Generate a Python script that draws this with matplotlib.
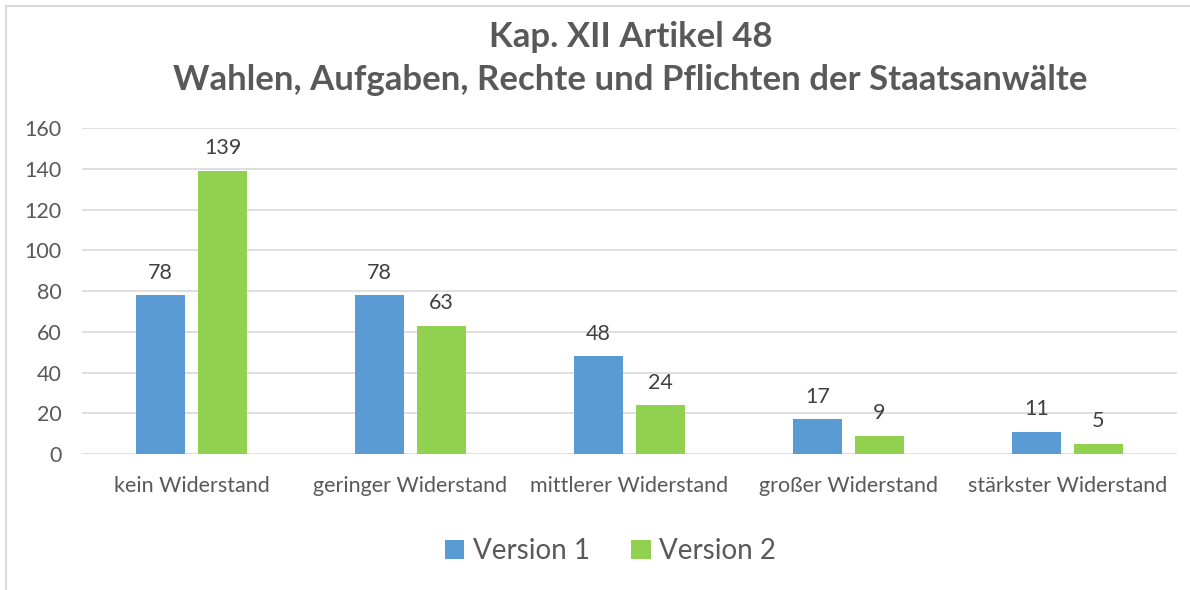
import matplotlib.pyplot as plt
import numpy as np
from matplotlib.patches import Rectangle

# Chart data
categories = ["kein Widerstand", "geringer Widerstand", "mittlerer Widerstand",
              "großer Widerstand", "stärkster Widerstand"]
version1 = [78, 78, 48, 17, 11]
version2 = [139, 63, 24, 9, 5]
series_names = ["Version 1", "Version 2"]
y_ticks = [0, 20, 40, 60, 80, 100, 120, 140, 160]

plt.rcParams['font.family'] = ['Lato', 'DejaVu Sans']

fig = plt.figure(figsize=(11.9, 5.9), dpi=100)
ax = fig.add_axes([0.069, 0.2305, 0.92, 0.5525])

x = np.arange(len(categories))
width = 0.224
gap = 0.06
b1 = ax.bar(x - (width + gap) / 2, version1, width, color="#5B9BD5", label=series_names[0], zorder=3)
b2 = ax.bar(x + (width + gap) / 2, version2, width, color="#92D050", label=series_names[1], zorder=3)

# Value labels above the bars
for bars in (b1, b2):
    for rect in bars:
        ax.annotate(f"{rect.get_height():.0f}",
                    (rect.get_x() + rect.get_width() / 2, rect.get_height()),
                    xytext=(0, 9), textcoords="offset points",
                    ha="center", va="bottom", fontsize=15.5, color="#404040")

ax.set_xlim(-0.5, len(categories) - 0.5)
ax.set_ylim(0, 160)
ax.set_yticks(y_ticks)
ax.set_xticks(x)
ax.set_xticklabels(categories)
ax.tick_params(axis="y", length=0, pad=15, labelsize=15.5, labelcolor="#595959")
ax.tick_params(axis="x", length=0, pad=16, labelsize=15.5, labelcolor="#595959")
ax.grid(axis="y", color="#D9D9D9", linewidth=1.2, zorder=0)
for s in ax.spines.values():
    s.set_visible(False)

fig.text(0.53, 0.937, "Kap. XII Artikel 48", ha="center", va="center",
         fontsize=25, fontweight="bold", color="#595959")
fig.text(0.53, 0.864, "Wahlen, Aufgaben, Rechte und Pflichten der Staatsanwälte",
         ha="center", va="center", fontsize=25, fontweight="bold", color="#595959")

fig.legend(loc="center", bbox_to_anchor=(0.513, 0.066), ncol=2, frameon=False,
           fontsize=20, labelcolor="#595959", handlelength=0.7, handleheight=0.7,
           handletextpad=0.3, columnspacing=1.5)

# Chart area border
fig.patches.append(Rectangle((6 / 1190, -0.1), 1.2, 1 - 6 / 590 + 0.1,
                             transform=fig.transFigure, fill=False,
                             edgecolor="#D9D9D9", linewidth=1.5))

fig.savefig("out.png", dpi=100)
